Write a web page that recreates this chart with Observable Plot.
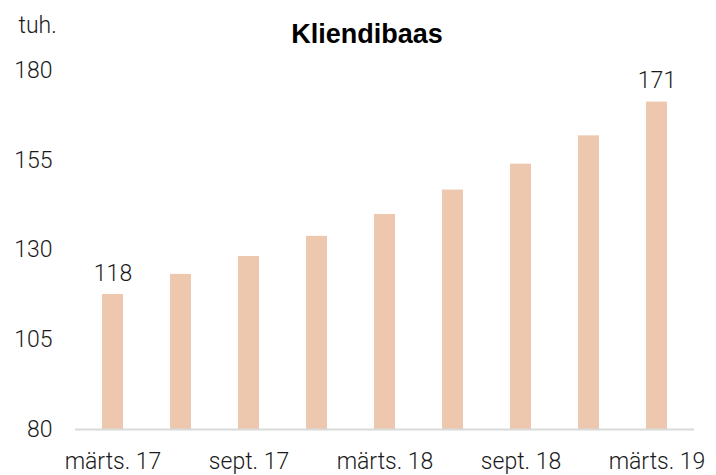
<!DOCTYPE html>
<html>
<head>
<meta charset="utf-8">
<script src="https://cdn.jsdelivr.net/npm/d3@7"></script>
<script src="https://cdn.jsdelivr.net/npm/@observablehq/plot@0.6"></script>
<style>
  html, body { margin: 0; padding: 0; background: #fff; }
  #chart svg { display: block; }
</style>
</head>
<body>
<div id="chart"></div>
<script>
const categories = ["märts. 17", "juuni 17", "sept. 17", "dets. 17", "märts. 18", "juuni 18", "sept. 18", "dets. 18", "märts. 19"];
const values = [117.6, 123.2, 128.2, 133.8, 139.9, 146.7, 153.9, 161.8, 171.2];
const xTickLabels = ["märts. 17", "sept. 17", "märts. 18", "sept. 18", "märts. 19"];
const yTicks = [80, 105, 130, 155, 180];
const labelled = ["märts. 17", "märts. 19"];
const title = "Kliendibaas";
const unit = "tuh.";

const data = categories.map((c, i) => ({ cat: c, value: values[i] }));
const labelData = data.filter(d => labelled.includes(d.cat));

const font = "Roboto, 'Liberation Sans', sans-serif";

const chart = Plot.plot({
  width: 716,
  height: 475,
  marginTop: 70,
  marginBottom: 46,
  marginLeft: 75,
  marginRight: 22,
  style: { fontFamily: font, fontSize: "23px", fontWeight: 300, color: "#1a1a1a", background: "#fff" },
  x: { domain: categories, paddingInner: 0.69, paddingOuter: 0.345, label: null },
  y: { domain: [80, 180], label: null },
  marks: [
    Plot.barY(data, { x: "cat", y1: 80, y2: "value", fill: "#EDC8AE" }),
    Plot.ruleY([80], { stroke: "#d9d9d9", strokeWidth: 2 }),
    Plot.axisY({ ticks: yTicks, tickSize: 0, tickPadding: 23, label: null, fontSize: 23 }),
    Plot.axisX({ ticks: xTickLabels, tickSize: 0, tickPadding: 23, label: null, fontSize: 23 }),
    Plot.text(labelData, { x: "cat", y: "value", text: d => Math.round(d.value), lineAnchor: "bottom", dy: -14, fontSize: 23, fill: "#1a1a1a" }),
    Plot.text([title], { frameAnchor: "top", lineAnchor: "bottom", dy: -28, dx: -18, fontSize: 27, fontWeight: "bold", fontFamily: "'Liberation Sans', Arial, sans-serif", fill: "#000" }),
    Plot.text([unit], { frameAnchor: "top-left", textAnchor: "start", lineAnchor: "bottom", dx: -57, dy: -38, fontSize: 23, fill: "#1a1a1a" })
  ]
});
document.getElementById("chart").appendChild(chart);
</script>
</body>
</html>
